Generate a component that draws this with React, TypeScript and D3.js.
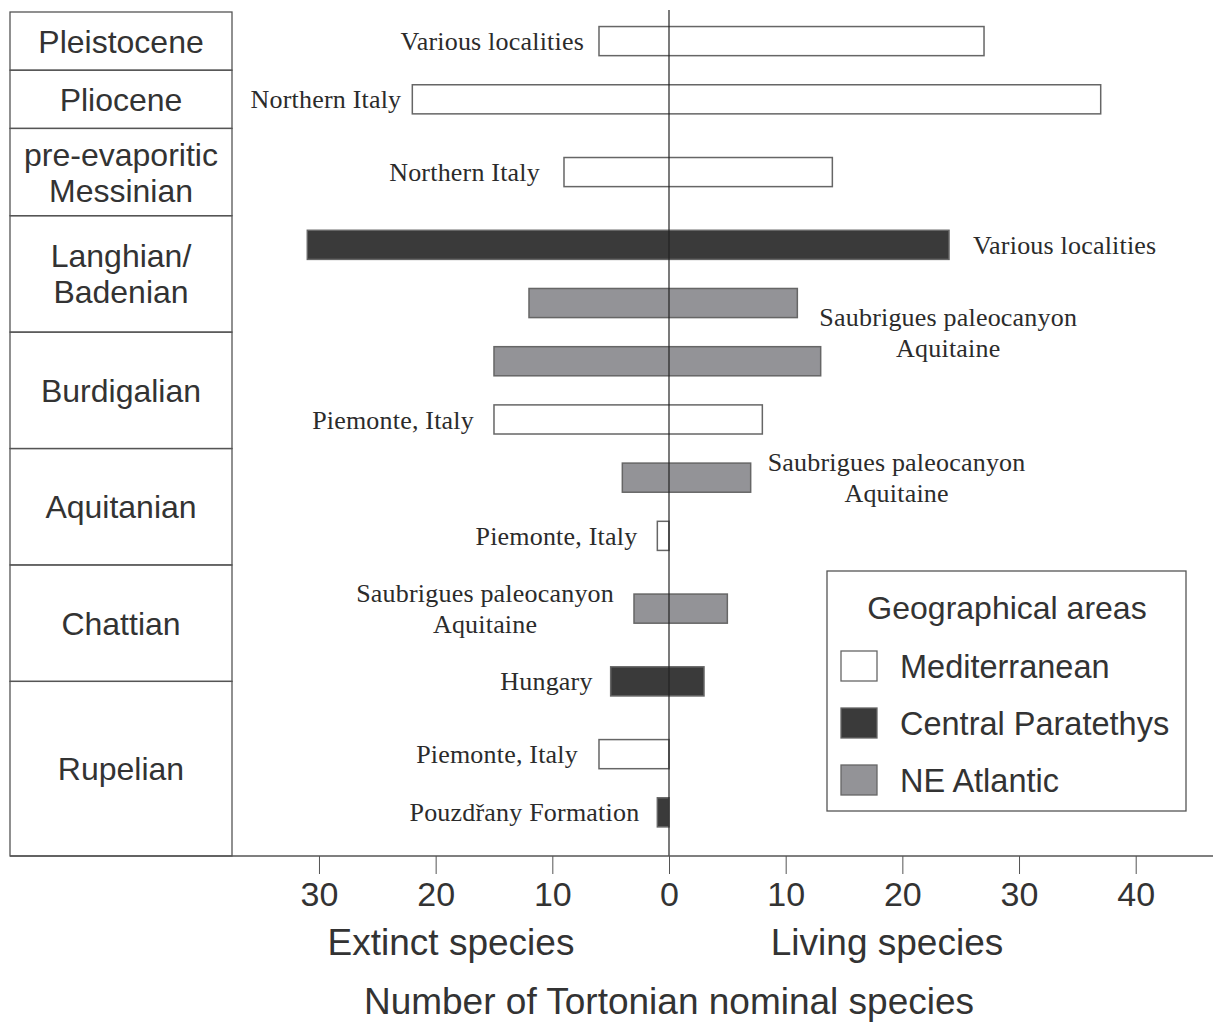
import { useEffect, useRef } from "react"
import * as d3 from "d3"

const stages = [
  "Pleistocene",
  "Pliocene",
  "pre-evaporitic|Messinian",
  "Langhian/|Badenian",
  "Burdigalian",
  "Aquitanian",
  "Chattian",
  "Rupelian",
]
// height of each stage box, in row slots
const stageSpan = [4, 4, 6, 8, 8, 8, 8, 12]

const areas = ["Mediterranean", "Central Paratethys", "NE Atlantic"]
const areaColor = ["#ffffff", "#3a3a3a", "#939397"]

const localities = [
  "Various localities",
  "Northern Italy",
  "Northern Italy",
  "Various localities",
  "Saubrigues paleocanyon|Aquitaine",
  "",
  "Piemonte, Italy",
  "Saubrigues paleocanyon|Aquitaine",
  "Piemonte, Italy",
  "Saubrigues paleocanyon|Aquitaine",
  "Hungary",
  "Piemonte, Italy",
  "Pouzdřany Formation",
]
const barArea = [0, 0, 0, 1, 2, 2, 0, 2, 0, 2, 1, 0, 1]
const extinct = [6, 22, 9, 31, 12, 15, 15, 4, 1, 3, 5, 6, 1]
const living = [27, 37, 14, 24, 11, 13, 8, 7, 0, 5, 3, 0, 0]

// layout: slot of each bar, and where its label goes
const barSlot = [2, 6, 11, 16, 20, 24, 28, 32, 36, 41, 46, 51, 55]
const labelSide = ["L", "L", "L", "R", "R", "", "L", "R", "L", "L", "L", "L", "L"]
const labelGap = [15, 11, 24, 24, 22, 0, 20, 17, 20, 20, 18, 21, 18]
const labelShift = [0, 0, 0, 0, 2, 0, 0, 0, 0, 0, 0, 0, 0]

const xTicks = [-30, -20, -10, 0, 10, 20, 30, 40]

const SANS = "'Liberation Sans', Arial, sans-serif"
const SERIF = "'Liberation Serif', 'Times New Roman', serif"
const INK = "#333"

export default function App() {
  const svgRef = useRef<SVGSVGElement>(null)

  useEffect(() => {
    if (!svgRef.current) return
    const width = 1215
    const height = 1022

    d3.select(svgRef.current).selectAll("*").remove()
    const svg = d3.select(svgRef.current).attr("width", width).attr("height", height)

    const x = d3.scaleLinear().domain([-40, 40]).range([202.3, 1135.7])
    const y = d3.scaleLinear().domain([0, 58]).range([12, 856])
    const boxL = 10
    const boxR = 232
    const axisY = 856

    // Stage column
    const starts = d3.cumsum([0, ...stageSpan.slice(0, -1)])
    const st = svg.append("g")
    stages.forEach((name, i) => {
      const y0 = y(starts[i])
      const y1 = y(starts[i] + stageSpan[i])
      st.append("rect")
        .attr("x", boxL).attr("y", y0)
        .attr("width", boxR - boxL).attr("height", y1 - y0)
        .attr("fill", "none").attr("stroke", "#555").attr("stroke-width", 1.3)
      const lines = name.split("|")
      const cy = (y0 + y1) / 2
      lines.forEach((ln, k) => {
        st.append("text")
          .attr("x", (boxL + boxR) / 2)
          .attr("y", cy + (k - (lines.length - 1) / 2) * 36)
          .attr("dy", "0.36em")
          .attr("text-anchor", "middle")
          .attr("font-family", SANS).attr("font-size", 32)
          .attr("fill", INK)
          .text(ln)
      })
    })

    // Bars
    const bars = svg.append("g")
    bars.selectAll("rect")
      .data(extinct.map((e, i) => i))
      .enter()
      .append("rect")
      .attr("x", (i) => x(-extinct[i]))
      .attr("y", (i) => y(barSlot[i] - 1))
      .attr("width", (i) => x(living[i]) - x(-extinct[i]))
      .attr("height", (i) => y(barSlot[i] + 1) - y(barSlot[i] - 1))
      .attr("fill", (i) => areaColor[barArea[i]])
      .attr("stroke", "#666")
      .attr("stroke-width", 1.5)

    // Locality labels
    const lab = svg.append("g")
    localities.forEach((name, i) => {
      if (!name) return
      const lines = name.split("|")
      const cy = y(barSlot[i] + labelShift[i])
      const t = lab.append("text")
        .attr("font-family", SERIF).attr("font-size", 26)
        .attr("letter-spacing", 0.2).attr("fill", "#2b2b2b")
      lines.forEach((ln, k) => {
        t.append("tspan")
          .attr("y", cy + (k - (lines.length - 1) / 2) * 31)
          .attr("dy", "0.35em")
          .text(ln)
      })
      const spans = t.selectAll<SVGTSpanElement, unknown>("tspan").nodes()
      const w = d3.max(spans, (s) => s.getComputedTextLength()) || 0
      const cx = labelSide[i] === "L"
        ? x(-extinct[i]) - labelGap[i] - w / 2
        : x(living[i]) + labelGap[i] + w / 2
      t.attr("text-anchor", "middle")
      t.selectAll("tspan").attr("x", cx)
    })

    // Zero line
    svg.append("line")
      .attr("x1", x(0)).attr("x2", x(0))
      .attr("y1", 10).attr("y2", axisY)
      .attr("stroke", "#222").attr("stroke-width", 1.2)

    // Axis
    svg.append("line")
      .attr("x1", boxL).attr("x2", 1213)
      .attr("y1", axisY).attr("y2", axisY)
      .attr("stroke", "#555").attr("stroke-width", 1.5)

    const ax = svg.append("g").attr("transform", `translate(0,${axisY})`)
      .call(
        d3.axisBottom(x)
          .tickValues(xTicks)
          .tickSize(18)
          .tickPadding(8)
          .tickFormat((d) => String(Math.abs(+d))),
      )
    ax.select(".domain").remove()
    ax.selectAll(".tick line").attr("stroke", "#555")
    ax.selectAll(".tick text")
      .attr("font-family", SANS).attr("font-size", 34)
      .attr("fill", INK)

    const titles = [
      { t: "Extinct species", x: 451, y: 955 },
      { t: "Living species", x: 887, y: 955 },
      { t: "Number of Tortonian nominal species", x: 669, y: 1014 },
    ]
    titles.forEach((d) => {
      svg.append("text")
        .attr("x", d.x).attr("y", d.y)
        .attr("text-anchor", "middle")
        .attr("font-family", SANS).attr("font-size", 37)
        .attr("fill", INK)
        .text(d.t)
    })

    // Legend
    const lg = svg.append("g").attr("transform", "translate(827,571)")
    lg.append("rect")
      .attr("width", 359).attr("height", 240)
      .attr("fill", "#fff").attr("stroke", "#555").attr("stroke-width", 1.3)
    lg.append("text")
      .attr("x", 180).attr("y", 36).attr("dy", "0.36em")
      .attr("text-anchor", "middle")
      .attr("font-family", SANS).attr("font-size", 32).attr("fill", INK)
      .text("Geographical areas")
    areas.forEach((a, i) => {
      const cy = 95 + i * 57
      lg.append("rect")
        .attr("x", 14).attr("y", cy - 15)
        .attr("width", 36).attr("height", 30)
        .attr("fill", areaColor[i]).attr("stroke", "#666").attr("stroke-width", 1.3)
      lg.append("text")
        .attr("x", 73).attr("y", cy).attr("dy", "0.36em")
        .attr("font-family", SANS).attr("font-size", 32.5).attr("fill", INK)
        .text(a)
    })
  }, [])

  return (
    <svg ref={svgRef} style={{ position: "absolute", left: 0, top: 0, background: "#fff" }} />
  )
}
